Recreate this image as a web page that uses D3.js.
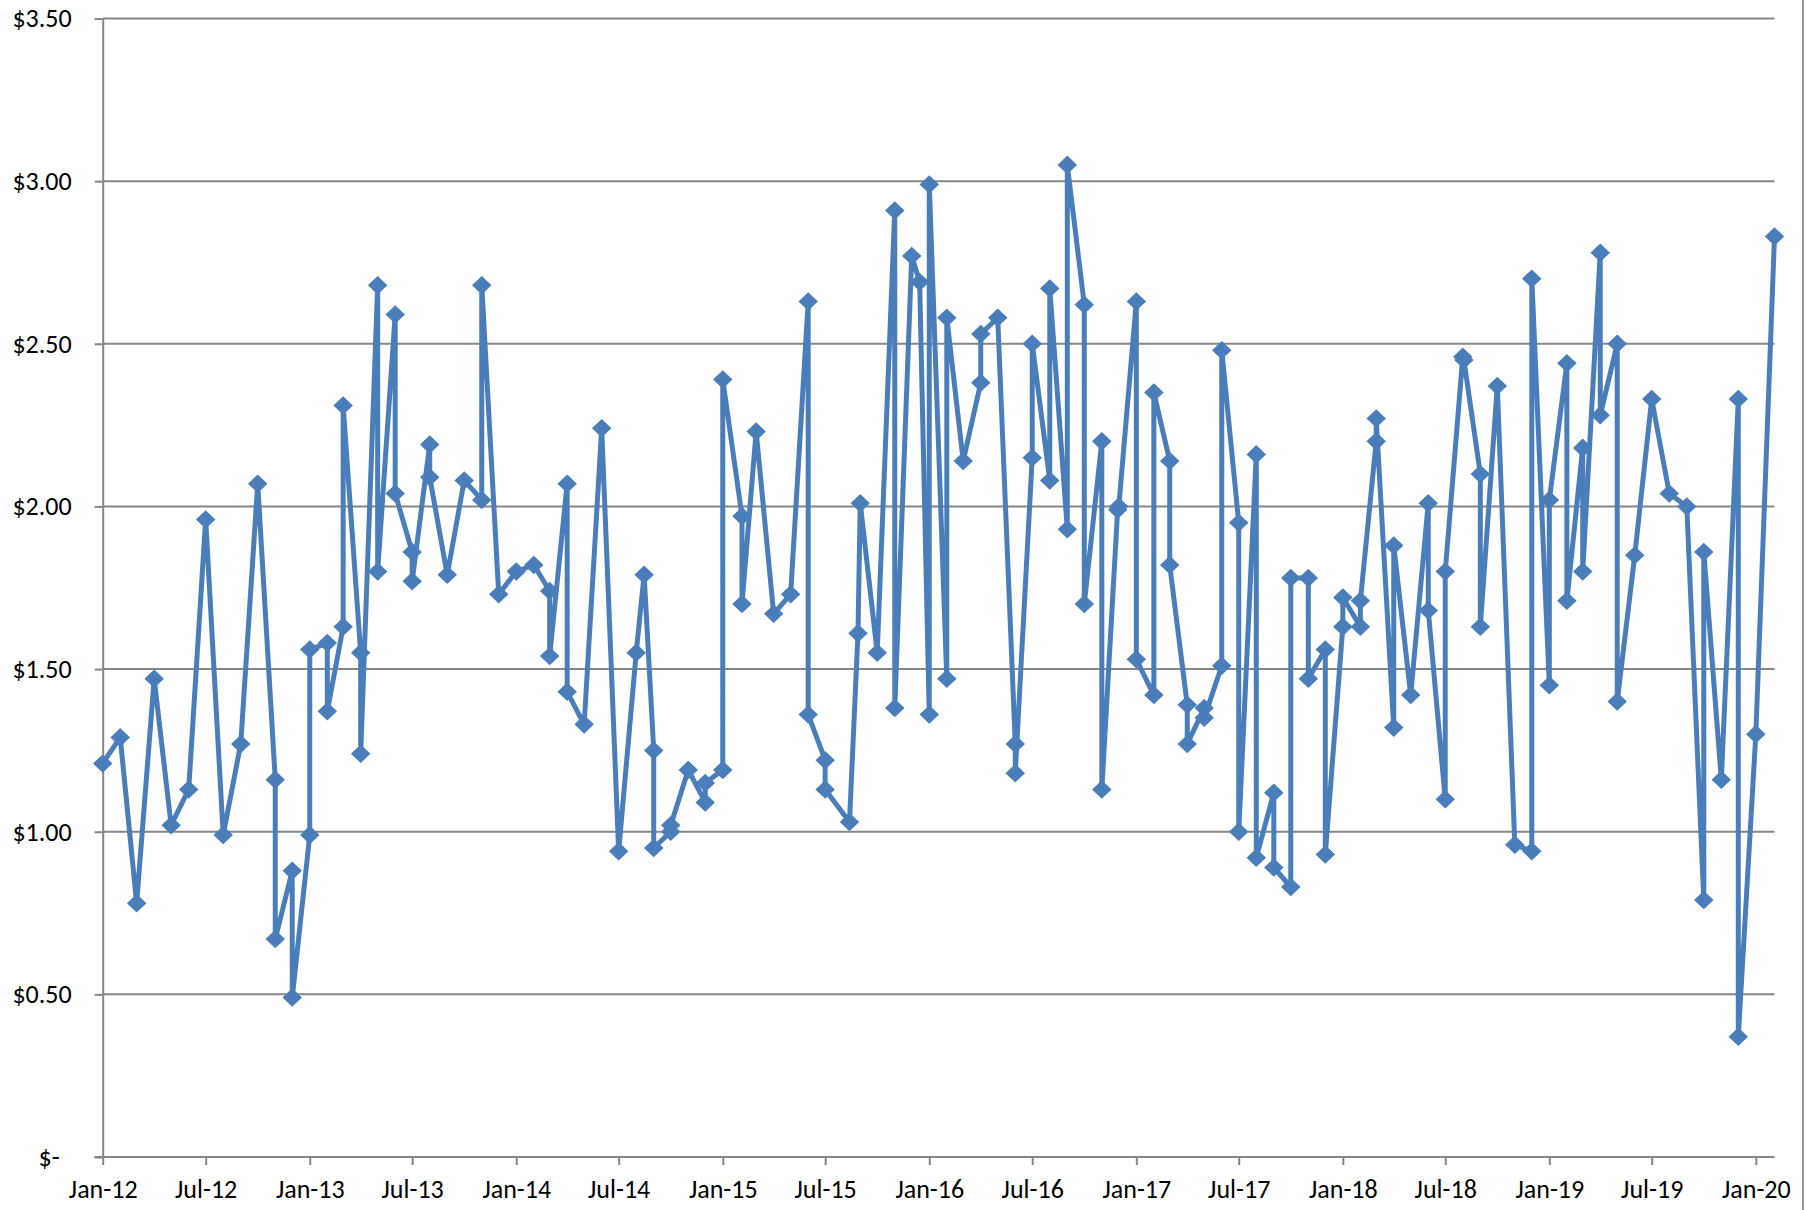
<!DOCTYPE html>
<html lang="en">
<head>
    <meta charset="UTF-8">
    <title>Monthly price</title>
    <style>
        body { margin: 0; background: #fff; }
        svg { display: block; }
        .axis text { font-family: Carlito, Calibri, Lato, sans-serif; font-size: 26px; fill: #000; }
        .axis path, .axis line { stroke: #868686; stroke-width: 2; }
        .grid line { stroke: #868686; stroke-width: 2; }
    </style>
</head>
<body>
    <div id="chart"></div>
    <script src="https://d3js.org/d3.v7.min.js"></script>
    <script>
        // observation dates (some months have two readings)
        const dates = [
            "2012-01-01","2012-02-01","2012-03-01","2012-04-01","2012-05-01","2012-06-01","2012-07-01","2012-08-01","2012-09-01","2012-10-01",
            "2012-11-01","2012-11-01","2012-12-01","2012-12-01","2013-01-01","2013-01-01","2013-02-01","2013-02-01","2013-03-01","2013-03-01",
            "2013-04-01","2013-04-01","2013-05-01","2013-05-01","2013-06-01","2013-06-01","2013-07-01","2013-07-01","2013-08-01","2013-08-01",
            "2013-09-01","2013-10-01","2013-11-01","2013-11-01","2013-12-01","2014-01-01","2014-02-01","2014-03-01","2014-03-01","2014-04-01",
            "2014-04-01","2014-05-01","2014-06-01","2014-07-01","2014-08-01","2014-08-15","2014-09-01","2014-09-01","2014-10-01","2014-10-01",
            "2014-11-01","2014-12-01","2014-12-01","2015-01-01","2015-01-01","2015-02-04","2015-02-04","2015-03-01","2015-04-01","2015-05-01",
            "2015-06-01","2015-06-01","2015-07-01","2015-07-01","2015-08-13","2015-08-28","2015-09-01","2015-10-01","2015-11-01","2015-11-01",
            "2015-12-01","2015-12-15","2016-01-01","2016-01-01","2016-02-01","2016-02-01","2016-03-01","2016-04-01","2016-04-01","2016-05-01",
            "2016-06-01","2016-06-01","2016-07-01","2016-07-01","2016-08-01","2016-08-01","2016-09-01","2016-09-01","2016-10-01","2016-10-01",
            "2016-11-01","2016-11-01","2016-11-29","2016-12-01","2017-01-01","2017-01-01","2017-02-01","2017-02-01","2017-03-01","2017-03-01",
            "2017-04-01","2017-04-01","2017-05-01","2017-05-01","2017-06-01","2017-06-01","2017-07-01","2017-07-01","2017-08-01","2017-08-01",
            "2017-09-01","2017-09-01","2017-10-01","2017-10-01","2017-11-01","2017-11-01","2017-12-01","2017-12-01","2018-01-01","2018-01-01",
            "2018-02-01","2018-02-01","2018-03-01","2018-03-01","2018-04-01","2018-04-01","2018-05-01","2018-06-01","2018-06-01","2018-07-01",
            "2018-07-01","2018-08-01","2018-08-03","2018-09-01","2018-09-01","2018-10-01","2018-11-01","2018-12-01","2018-12-01","2019-01-01",
            "2019-01-01","2019-02-01","2019-02-01","2019-03-01","2019-03-01","2019-04-01","2019-04-01","2019-05-01","2019-05-01","2019-06-01",
            "2019-07-01","2019-08-01","2019-09-01","2019-10-01","2019-10-01","2019-11-01","2019-12-01","2019-12-01","2020-01-01","2020-02-03"
        ];

        const prices = [
            1.21, 1.29, 0.78, 1.47, 1.02, 1.13, 1.96, 0.99, 1.27, 2.07,
            1.16, 0.67, 0.88, 0.49, 0.99, 1.56, 1.58, 1.37, 1.63, 2.31,
            1.55, 1.24, 2.68, 1.80, 2.59, 2.04, 1.86, 1.77, 2.19, 2.09,
            1.79, 2.08, 2.02, 2.68, 1.73, 1.80, 1.82, 1.74, 1.54, 2.07,
            1.43, 1.33, 2.24, 0.94, 1.55, 1.79, 1.25, 0.95, 1.00, 1.02,
            1.19, 1.09, 1.15, 1.19, 2.39, 1.97, 1.70, 2.23, 1.67, 1.73,
            2.63, 1.36, 1.22, 1.13, 1.03, 1.61, 2.01, 1.55, 2.91, 1.38,
            2.77, 2.69, 1.36, 2.99, 1.47, 2.58, 2.14, 2.38, 2.53, 2.58,
            1.27, 1.18, 2.15, 2.50, 2.08, 2.67, 1.93, 3.05, 2.62, 1.70,
            2.20, 1.13, 1.99, 2.00, 2.63, 1.53, 1.42, 2.35, 2.14, 1.82,
            1.39, 1.27, 1.38, 1.35, 1.51, 2.48, 1.95, 1.00, 2.16, 0.92,
            1.12, 0.89, 0.83, 1.78, 1.78, 1.47, 1.56, 0.93, 1.63, 1.72,
            1.63, 1.71, 2.20, 2.27, 1.32, 1.88, 1.42, 2.01, 1.68, 1.10,
            1.80, 2.46, 2.45, 2.10, 1.63, 2.37, 0.96, 0.94, 2.70, 1.45,
            2.02, 2.44, 1.71, 2.18, 1.80, 2.78, 2.28, 2.50, 1.40, 1.85,
            2.33, 2.04, 2.00, 0.79, 1.86, 1.16, 2.33, 0.37, 1.30, 2.83
        ];

        const yTicks = [0, 0.5, 1, 1.5, 2, 2.5, 3, 3.5];
        const xTickDates = ["2012-01-01","2012-07-01","2013-01-01","2013-07-01","2014-01-01","2014-07-01",
            "2015-01-01","2015-07-01","2016-01-01","2016-07-01","2017-01-01","2017-07-01",
            "2018-01-01","2018-07-01","2019-01-01","2019-07-01","2020-01-01"];

        const width = 1816, height = 1210;
        const plotLeft = 102.7, plotRight = 1774.5, plotTop = 18.5, plotBottom = 1157;

        const parse = d3.timeParse("%Y-%m-%d");
        const data = dates.map((d, i) => ({ date: parse(d), value: prices[i] }));

        const svg = d3.select("#chart")
            .append("svg")
            .attr("width", width)
            .attr("height", height);

        svg.append("rect").attr("width", width).attr("height", height).attr("fill", "#fff");

        const x = d3.scaleTime()
            .domain([parse("2012-01-01"), parse("2020-02-03")])
            .range([plotLeft, plotRight]);

        const y = d3.scaleLinear()
            .domain([0, 3.5])
            .range([plotBottom, plotTop]);

        // horizontal gridlines
        svg.append("g")
            .attr("class", "grid")
            .selectAll("line")
            .data(yTicks.filter(d => d > 0))
            .enter()
            .append("line")
            .attr("x1", plotLeft)
            .attr("x2", plotRight)
            .attr("y1", d => y(d))
            .attr("y2", d => y(d));

        // y axis
        const yAxis = svg.append("g")
            .attr("class", "axis")
            .attr("transform", `translate(${plotLeft},0)`)
            .call(d3.axisLeft(y)
                .tickValues(yTicks)
                .tickSize(8)
                .tickSizeOuter(0)
                .tickPadding(23)
                .tickFormat(d => d === 0 ? "$-" : "$" + d3.format(".2f")(d)));
        yAxis.selectAll(".tick text").filter(d => d === 0).attr("dx", -12);

        // x axis
        const xAxis = svg.append("g")
            .attr("class", "axis")
            .attr("transform", `translate(0,${plotBottom})`)
            .call(d3.axisBottom(x)
                .tickValues(xTickDates.map(parse))
                .tickSize(8)
                .tickSizeOuter(0)
                .tickPadding(15)
                .tickFormat(d3.timeFormat("%b-%y")));
        xAxis.select(".domain").attr("d", `M${plotLeft - 8},0H${plotRight}`);

        // frame line on the right edge
        svg.append("line")
            .attr("x1", 1803).attr("x2", 1803)
            .attr("y1", 0).attr("y2", height)
            .attr("stroke", "#9a9a9a")
            .attr("stroke-width", 2);

        // price line
        const line = d3.line()
            .x(d => x(d.date))
            .y(d => y(d.value));

        svg.append("path")
            .datum(data)
            .attr("fill", "none")
            .attr("stroke", "#4a7ebb")
            .attr("stroke-width", 5)
            .attr("stroke-linejoin", "round")
            .attr("d", line);

        // diamond markers
        const diamond = {
            draw(ctx, size) {
                const r = Math.sqrt(size) / 2;
                ctx.moveTo(0, -r * 0.95);
                ctx.lineTo(r, 0);
                ctx.lineTo(0, r * 0.95);
                ctx.lineTo(-r, 0);
                ctx.closePath();
            }
        };

        svg.append("g")
            .selectAll("path")
            .data(data)
            .enter()
            .append("path")
            .attr("transform", d => `translate(${x(d.date)},${y(d.value)})`)
            .attr("d", d3.symbol().type(diamond).size(380))
            .attr("fill", "#4a7ebb");
    </script>
</body>
</html>
